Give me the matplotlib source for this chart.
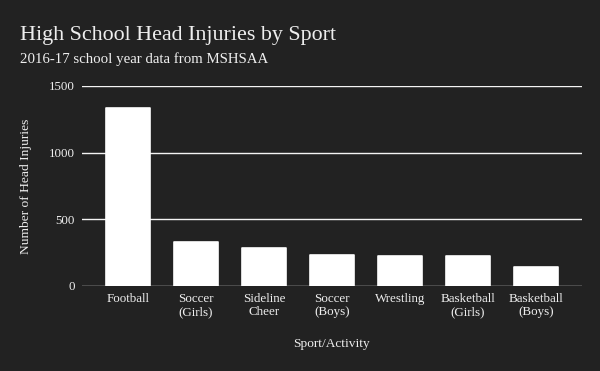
import matplotlib.pyplot as plt

sports = ["Football", "Soccer\n(Girls)", "Sideline\nCheer", "Soccer\n(Boys)",
          "Wrestling", "Basketball\n(Girls)", "Basketball\n(Boys)"]
injuries = [1335, 328, 283, 233, 225, 225, 143]
yticks = [0, 500, 1000, 1500]

bg = "#222222"
fg = "#eeeeee"
plt.rcParams['font.family'] = ['Liberation Serif', 'DejaVu Serif']

fig = plt.figure(figsize=(6, 3.71), dpi=100, facecolor=bg)
ax = fig.add_axes([82/600, 1-286/371, 500/600, 200/371], facecolor=bg)

ax.set_axisbelow(True)
ax.yaxis.grid(True, color="#f4f4f4", linewidth=1)
ax.bar(range(len(sports)), injuries, width=0.647, color="white",
       edgecolor="white", linewidth=1.2, joinstyle="round", zorder=3)

ax.set_xlim(-0.676, len(sports) - 1 + 0.676)
ax.set_ylim(0, 1500)
ax.set_yticks(yticks)
ax.set_xticks(range(len(sports)))
ax.set_xticklabels(sports, fontsize=9.4, color=fg, linespacing=1.15)
ax.tick_params(axis="y", length=0, pad=5, labelsize=9.4, labelcolor=fg)
ax.tick_params(axis="x", length=0, pad=5)
for s in ax.spines.values():
    s.set_visible(False)

ax.set_xlabel("Sport/Activity", fontsize=9.6, color=fg)
ax.set_ylabel("Number of Head Injuries", fontsize=9.7, color=fg)
ax.xaxis.set_label_coords(0.5, -0.26)
ax.yaxis.set_label_coords(-0.1, 0.5)

fig.text(20/600, 1-40/371, "High School Head Injuries by Sport", fontsize=15.8, color=fg)
fig.text(20/600, 1-63/371, "2016-17 school year data from MSHSAA", fontsize=10.7, color=fg)

fig.savefig("out.png", facecolor=bg)
